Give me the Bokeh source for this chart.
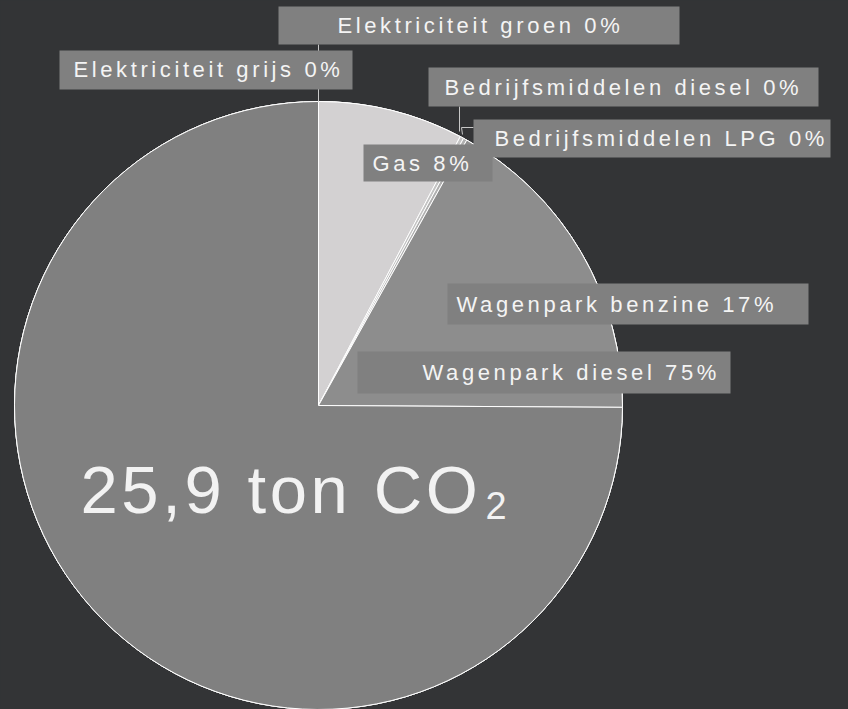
import numpy as np
from bokeh.plotting import figure
from bokeh.models import Range1d, ColumnDataSource, GlobalInlineStyleSheet
from bokeh.core.properties import value
from bokeh.embed import file_html
from bokeh.resources import INLINE

# ---------------- data ----------------
categories = ["Elektriciteit grijs", "Elektriciteit groen", "Gas",
              "Bedrijfsmiddelen diesel", "Bedrijfsmiddelen LPG",
              "Wagenpark benzine", "Wagenpark diesel"]
tons = [0.0, 0.0, 2.0, 0.05, 0.05, 4.4, 19.4]
unit_label = "ton CO"
unit_sub = "2"

# ---------------- styles ----------------
BG = "#333436"
slice_colors = ["#8a8a8a", "#bdbdbd", "#d3d1d2", "#c4c4c4", "#b0b0b0", "#8d8d8d", "#808080"]
BOX = "#808080"
TXT = "#f4f4f4"
FONT = "Liberation Sans"
SHIFT = 0.37  # baseline compensation (em)

vals = np.array(tons)
total = vals.sum()
cum = np.cumsum(vals)
start = np.pi / 2 - 2 * np.pi * (cum - vals) / total
end = np.pi / 2 - 2 * np.pi * cum / total
pct = [f"{int(round(100 * v / total))}%" for v in vals]
labels = [f"{c} {p_}" for c, p_ in zip(categories, pct)]

# ---------------- layout (screen px) ----------------
cx, cy, R = 318, 405, 304
# box left, right, top, bottom, text x, text baseline
layout = {
    "Elektriciteit grijs":     (59, 352, 50, 89, 73, 77.5),
    "Elektriciteit groen":     (278, 679, 6, 44, 337, 33),
    "Gas":                     (363, 492, 144, 181, 372, 171.5),
    "Bedrijfsmiddelen diesel": (428, 818, 67, 106, 444, 95),
    "Bedrijfsmiddelen LPG":    (473, 830, 119, 157, 494, 146.5),
    "Wagenpark benzine":       (447, 808, 283, 324, 456, 312),
    "Wagenpark diesel":        (357, 730, 351, 393, 422, 380.5),
}
leaders_x = [[318, 318], [318, 318], [459, 459], [473, 461, 462]]
leaders_y = [[44, 101], [89, 101], [106, 131], [127, 127, 134]]

W, H = 848, 709
p = figure(width=W, height=H, output_backend="svg", toolbar_location=None,
           x_range=Range1d(0, W), y_range=Range1d(H, 0),
           min_border=0, background_fill_color=BG, border_fill_color=BG,
           outline_line_color=None)
p.axis.visible = False
p.grid.visible = False
p.stylesheets = [GlobalInlineStyleSheet(
    css=f"html, body {{ margin: 0; padding: 0; overflow: hidden; background-color: {BG}; letter-spacing: 3.6px; }}")]

src = ColumnDataSource(dict(x=[cx] * len(vals), y=[cy] * len(vals), start=start, end=end,
                            color=slice_colors, cat=categories))
p.wedge(x="x", y="y", radius=R, start_angle="start", end_angle="end", direction="clock",
        fill_color="color", line_color="white", line_width=1, source=src)

p.multi_line(xs=leaders_x, ys=leaders_y, line_color="#c8c8c8", line_width=1)

L = [layout[c] for c in categories]
p.quad(left=[l[0] for l in L], right=[l[1] for l in L], top=[l[2] for l in L],
       bottom=[l[3] for l in L], fill_color=BOX, line_color=None)
p.text(x=[l[4] for l in L], y=[l[5] - SHIFT * 22 for l in L], text=labels,
       text_font=value(FONT), text_font_size="22px", text_color=TXT,
       text_align="left", text_baseline="alphabetic")

total_str = f"{total:.1f}".replace(".", ",")
p.text(x=[80], y=[514 - SHIFT * 67], text=[f"{total_str} {unit_label}"], text_font=value(FONT),
       text_font_size="67px", text_color="#f2f2f2", text_align="left", text_baseline="alphabetic")
p.text(x=[485], y=[519 - SHIFT * 38], text=[unit_sub], text_font=value(FONT),
       text_font_size="38px", text_color="#f2f2f2", text_align="left", text_baseline="alphabetic")

open("out.html", "w").write(file_html(p, INLINE))
